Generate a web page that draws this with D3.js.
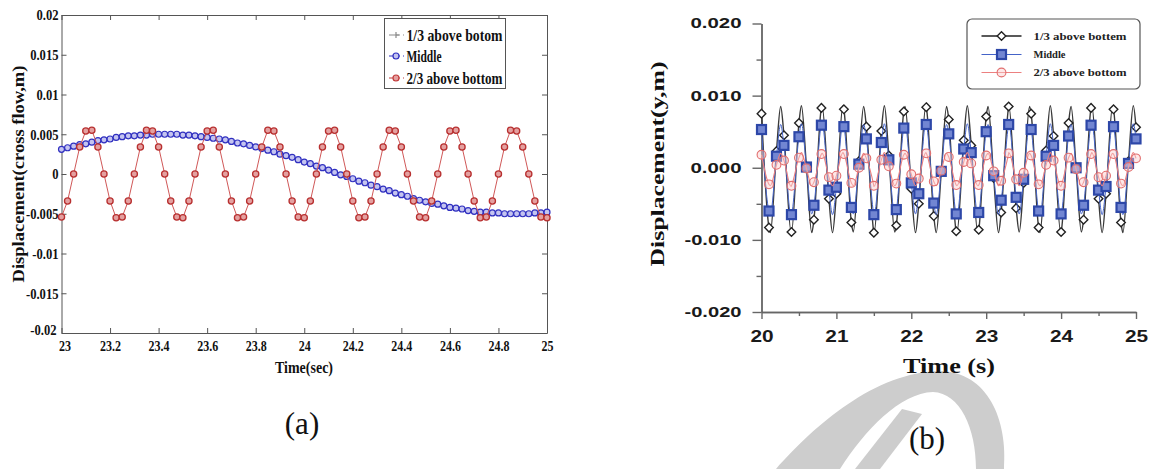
<!DOCTYPE html>
<html><head><meta charset="utf-8">
<script src="https://cdn.jsdelivr.net/npm/d3@7"></script>
<style>body{margin:0;background:#fff}svg{display:block}</style>
</head><body>
<svg id="c" width="1153" height="469"></svg>
<script>
// ---------- Panel (a) data ----------
const aTimes = [23.000,23.025,23.050,23.075,23.100,23.125,23.150,23.175,23.200,23.225,23.250,23.275,23.300,23.325,23.350,23.375,23.400,23.425,23.450,23.475,23.500,23.525,23.550,23.575,23.600,23.625,23.650,23.675,23.700,23.725,23.750,23.775,23.800,23.825,23.850,23.875,23.900,23.925,23.950,23.975,24.000,24.025,24.050,24.075,24.100,24.125,24.150,24.175,24.200,24.225,24.250,24.275,24.300,24.325,24.350,24.375,24.400,24.425,24.450,24.475,24.500,24.525,24.550,24.575,24.600,24.625,24.650,24.675,24.700,24.725,24.750,24.775,24.800,24.825,24.850,24.875,24.900,24.925,24.950,24.975,25.000];
const aMiddle = [0.0031,0.0033,0.0035,0.0037,0.0038,0.0040,0.0042,0.0043,0.0044,0.0046,
 0.0047,0.0048,0.0048,0.0049,0.0049,0.0050,0.0050,0.0050,0.0050,0.0050,
 0.0049,0.0049,0.0048,0.0047,0.0046,0.0045,0.0044,0.0043,0.0041,0.0039,
 0.0038,0.0036,0.0034,0.0032,0.0030,0.0028,0.0025,0.0023,0.0021,0.0018,
 0.0015,0.0013,0.0010,0.0008,0.0005,0.0002,-0.0001,-0.0003,-0.0006,-0.0009,
 -0.0011,-0.0014,-0.0016,-0.0019,-0.0021,-0.0024,-0.0026,-0.0028,-0.0031,-0.0033,
 -0.0035,-0.0037,-0.0038,-0.0040,-0.0042,-0.0043,-0.0044,-0.0046,-0.0047,-0.0048,
 -0.0048,-0.0049,-0.0049,-0.0050,-0.0050,-0.0050,-0.0050,-0.0050,-0.0049,-0.0049,
 -0.0048];
const aTwoThirds = [-0.0054,-0.0034,0.0000,0.0034,0.0054,0.0055,0.0034,0.0000,-0.0034,-0.0055,
 -0.0054,-0.0034,0.0000,0.0034,0.0055,0.0054,0.0034,0.0000,-0.0034,-0.0054,
 -0.0055,-0.0034,0.0000,0.0034,0.0054,0.0055,0.0034,0.0000,-0.0034,-0.0055,
 -0.0054,-0.0034,0.0000,0.0034,0.0055,0.0054,0.0034,0.0000,-0.0034,-0.0054,
 -0.0055,-0.0034,0.0000,0.0034,0.0054,0.0055,0.0034,0.0000,-0.0034,-0.0055,
 -0.0054,-0.0034,0.0000,0.0034,0.0055,0.0054,0.0034,0.0000,-0.0034,-0.0054,
 -0.0055,-0.0034,0.0000,0.0034,0.0054,0.0055,0.0034,0.0000,-0.0034,-0.0055,
 -0.0054,-0.0034,0.0000,0.0034,0.0055,0.0054,0.0034,0.0000,-0.0034,-0.0054,
 -0.0055];
const aXTicks = [23,23.2,23.4,23.6,23.8,24,24.2,24.4,24.6,24.8,25];
const aXLabels = ["23","23.2","23.4","23.6","23.8","24","24.2","24.4","24.6","24.8","25"];
const aYTicks = [0.02,0.015,0.01,0.005,0,-0.005,-0.01,-0.015,-0.02];
const aYLabels = ["0.02","0.015","0.01","0.005","0","-0.005","-0.01","-0.015","-0.02"];
const aLegend = ["1/3 above botom","Middle","2/3 above bottom"];

// ---------- Panel (b) data ----------
const bMarkTimes = [20.0,20.1,20.2,20.3,20.4,20.5,20.6,20.7,20.8,20.9,21.0,21.1,21.2,21.3,21.4,21.5,21.6,21.7,21.8,21.9,22.0,22.1,22.2,22.3,22.4,22.5,22.6,22.7,22.8,22.9,23.0,23.1,23.2,23.3,23.4,23.5,23.6,23.7,23.8,23.9,24.0,24.1,24.2,24.3,24.4,24.5,24.6,24.7,24.8,24.9,25.0];
const bLowMarks = [0.0075,-0.0083,0.0023,0.0045,-0.0089,0.0062,0.0002,-0.0072,0.0083,-0.0043,
 -0.0036,0.0081,-0.0076,0.0009,0.0057,-0.0090,0.0051,0.0017,-0.0080,0.0078,
 -0.0029,-0.0050,0.0084,-0.0067,-0.0006,0.0067,-0.0088,0.0038,0.0031,-0.0086,
 0.0071,-0.0014,-0.0062,0.0085,-0.0056,-0.0021,0.0075,-0.0083,0.0024,0.0044,
 -0.0089,0.0062,0.0001,-0.0072,0.0083,-0.0043,-0.0036,0.0081,-0.0076,0.0009,0.0056];
const bMidMarks = [0.0053,-0.0060,0.0016,0.0031,-0.0065,0.0043,0.0001,-0.0052,0.0059,-0.0031,
 -0.0027,0.0057,-0.0055,0.0005,0.0040,-0.0065,0.0035,0.0011,-0.0058,0.0055,
 -0.0021,-0.0036,0.0060,-0.0049,-0.0005,0.0047,-0.0064,0.0026,0.0021,-0.0062,
 0.0050,-0.0011,-0.0045,0.0060,-0.0041,-0.0016,0.0053,-0.0060,0.0016,0.0031,
 -0.0064,0.0044,0.0000,-0.0052,0.0059,-0.0031,-0.0026,0.0057,-0.0055,0.0006,0.0040];
const bHighMarks = [0.0018,-0.0023,0.0004,0.0010,-0.0025,0.0014,-0.0001,-0.0020,0.0019,-0.0013,
 -0.0011,0.0019,-0.0021,0.0000,0.0013,-0.0025,0.0011,0.0002,-0.0022,0.0018,
 -0.0009,-0.0015,0.0020,-0.0019,-0.0004,0.0015,-0.0024,0.0008,0.0006,-0.0024,
 0.0017,-0.0005,-0.0018,0.0020,-0.0016,-0.0007,0.0017,-0.0023,0.0004,0.0010,
 -0.0025,0.0014,-0.0002,-0.0020,0.0019,-0.0013,-0.0011,0.0019,-0.0022,0.0001,0.0013];
const bExtTimes = [20.118,20.256,20.395,20.533,20.671,20.810,20.948,21.087,21.225,21.364,21.502,21.641,21.779,21.917,22.056,22.194,22.333,22.471,22.610,22.748,22.887,23.025,23.164,23.302,23.441,23.579,23.718,23.856,23.995,24.133,24.271,24.410,24.548,24.687,24.825,24.964];
const bLowExt = [-0.0090,0.0085,-0.0089,0.0086,-0.0090,0.0085,-0.0090,0.0086,-0.0089,0.0085,-0.0091,0.0086,-0.0089,0.0085,-0.0090,0.0086,-0.0090,0.0085,-0.0089,0.0086,-0.0090,0.0085,-0.0090,0.0086,-0.0089,0.0085,-0.0090,0.0086,-0.0090,0.0085,-0.0089,0.0086,-0.0090,0.0085,-0.0090,0.0086];
const bMidExt = [-0.0064,0.0060,-0.0066,0.0061,-0.0064,0.0060,-0.0065,0.0061,-0.0064,0.0060,-0.0066,0.0061,-0.0065,0.0060,-0.0064,0.0061,-0.0065,0.0060,-0.0065,0.0061,-0.0064,0.0060,-0.0065,0.0061,-0.0064,0.0060,-0.0065,0.0061,-0.0065,0.0060,-0.0064,0.0061,-0.0065,0.0060,-0.0065,0.0061];
const bHighExt = [-0.0025,0.0020,-0.0026,0.0021,-0.0025,0.0020,-0.0025,0.0021,-0.0025,0.0020,-0.0026,0.0021,-0.0025,0.0020,-0.0025,0.0021,-0.0025,0.0020,-0.0025,0.0021,-0.0025,0.0020,-0.0025,0.0021,-0.0025,0.0020,-0.0025,0.0021,-0.0026,0.0020,-0.0025,0.0021,-0.0025,0.0020,-0.0025,0.0021];
const bXTicks = [20,21,22,23,24,25];
const bXLabels = ["20","21","22","23","24","25"];
const bXMinor = [20.5,21.5,22.5,23.5,24.5];
const bYTicks = [0.02,0.01,0,-0.01,-0.02];
const bYLabels = ["0.020","0.010","0.000","-0.010","-0.020"];
const bYMinor = [0.015,0.005,-0.005,-0.015];
const bLegend = ["1/3 above bottem","Middle","2/3 above bottom"];

// ---------- helpers ----------
const svg = d3.select("#c");
function fitTo(sel, w){ sel.attr("textLength", w).attr("lengthAdjust","spacingAndGlyphs"); }
function squash(sel, f){ sel.each(function(){ const w=this.getComputedTextLength(); d3.select(this).attr("textLength", w*f).attr("lengthAdjust","spacingAndGlyphs"); }); }
const SERIF = "'Liberation Serif','Times New Roman',serif";
const SANS = "'Liberation Sans',Arial,sans-serif";

// ---------- watermark ----------
const wm = svg.append("g").attr("fill","#cdcdcd");
wm.append("path").attr("d","M776,469 C815,425 875,372 940,371 C988,372 1008,420 1004,469 L976,469 C976,428 960,393 933,392 C900,393 865,430 840,469 Z");
wm.append("path").attr("d","M855,469 L902,409 L922,414 L880,469 Z");

// ================= Panel (a) =================
const xA = d3.scaleLinear().domain([23,25]).range([61.5,547]);
const yA = d3.scaleLinear().domain([-0.02,0.02]).range([333,15]);
const gA = svg.append("g");

function styleAxisA(g){
  g.selectAll(".domain").attr("stroke","#555").attr("stroke-width",1);
  g.selectAll(".tick line").attr("stroke","#555");
  g.selectAll("text").attr("fill","#111").attr("font-family",SERIF).attr("font-weight","bold").attr("font-size",15);
}
const axBA = gA.append("g").attr("transform","translate(0,333)")
  .call(d3.axisBottom(xA).tickValues(aXTicks).tickFormat((d,i)=>aXLabels[i]).tickSizeInner(-5).tickSizeOuter(0).tickPadding(7));
styleAxisA(axBA); squash(axBA.selectAll("text"),0.8);
axBA.selectAll("text").filter((d,i)=>i===0).attr("dx","3");
const axTA = gA.append("g").attr("transform","translate(0,15)")
  .call(d3.axisTop(xA).tickValues(aXTicks).tickFormat("").tickSizeInner(-5).tickSizeOuter(0));
styleAxisA(axTA);
const axLA = gA.append("g").attr("transform","translate(61.5,0)")
  .call(d3.axisLeft(yA).tickValues(aYTicks).tickFormat((d,i)=>aYLabels[i]).tickSizeInner(-5).tickSizeOuter(0).tickPadding(3));
styleAxisA(axLA); squash(axLA.selectAll("text"),0.84);
axLA.selectAll("text").filter((d,i)=>i===aYTicks.length-1).attr("dy","0.1em").attr("dx","-2");
const axRA = gA.append("g").attr("transform","translate(547,0)")
  .call(d3.axisRight(yA).tickValues(aYTicks).tickFormat("").tickSizeInner(-5).tickSizeOuter(0));
styleAxisA(axRA);

// series
const lineA = d3.line().x((d,i)=>xA(aTimes[i])).y(d=>yA(d));
gA.append("path").datum(aMiddle).attr("d",lineA).attr("fill","none").attr("stroke","#5050d8").attr("stroke-width",1).attr("stroke-dasharray","3,2");
gA.append("g").selectAll("circle").data(aMiddle).join("circle")
  .attr("cx",(d,i)=>xA(aTimes[i])).attr("cy",d=>yA(d)).attr("r",3)
  .attr("fill","#c4c4f0").attr("stroke","#3030c0").attr("stroke-width",1.2);
gA.append("path").datum(aTwoThirds).attr("d",lineA).attr("fill","none").attr("stroke","#d05858").attr("stroke-width",1);
gA.append("g").selectAll("circle").data(aTwoThirds).join("circle")
  .attr("cx",(d,i)=>xA(aTimes[i])).attr("cy",d=>yA(d)).attr("r",3.1)
  .attr("fill","#e4a0a0").attr("stroke","#b83030").attr("stroke-width",1.3);

// legend (a)
const lgA = gA.append("g");
lgA.append("rect").attr("x",384.5).attr("y",18.5).attr("width",121).attr("height",70).attr("fill","#fff").attr("stroke","#555");
const lgAy = [35,56,78], lgAcol = ["#8a8a8a","#3030c0","#c23a3a"], lgAw=[96,35,96];
aLegend.forEach((name,i)=>{
  const y = lgAy[i];
  lgA.append("line").attr("x1",389).attr("x2",404).attr("y1",y).attr("y2",y).attr("stroke",lgAcol[i]).attr("stroke-width",1.2).attr("stroke-dasharray","4,3");
  if(i===0){
    lgA.append("path").attr("d",`M${393},${y}h6M${396},${y-3}v6`).attr("stroke",lgAcol[i]).attr("stroke-width",1.2);
  } else {
    lgA.append("circle").attr("cx",396).attr("cy",y).attr("r",3).attr("fill", i===1?"#c4c4f0":"#e4a0a0").attr("stroke",lgAcol[i]).attr("stroke-width",1.2);
  }
  const t = lgA.append("text").attr("x",406.5).attr("y",y+5.5).text(name)
    .attr("font-family",SERIF).attr("font-weight","bold").attr("font-size",16).attr("fill","#111");
  fitTo(t, lgAw[i]);
});

// titles (a)
const tA1 = gA.append("text").attr("x",304).attr("y",373).attr("text-anchor","middle").text("Time(sec)")
  .attr("font-family",SERIF).attr("font-weight","bold").attr("font-size",17).attr("fill","#111");
fitTo(tA1,58);
const tA2 = gA.append("text").attr("transform","translate(24,174) rotate(-90)").attr("text-anchor","middle").text("Displacement(cross flow,m)")
  .attr("font-family",SERIF).attr("font-weight","bold").attr("font-size",16).attr("fill","#111");
fitTo(tA2,217);
gA.append("text").attr("x",302).attr("y",434).attr("text-anchor","middle").text("(a)")
  .attr("font-family",SERIF).attr("font-size",31).attr("fill","#111");

// ================= Panel (b) =================
const xB = d3.scaleLinear().domain([20,25]).range([761.5,1136]);
const yB = d3.scaleLinear().domain([-0.02,0.02]).range([312,23.5]);
const gB = svg.append("g");
function styleAxisB(g){
  g.selectAll(".domain").attr("stroke","#666").attr("stroke-width",1.4);
  g.selectAll(".tick line").attr("stroke","#666").attr("stroke-width",1.4);
  g.selectAll("text").attr("fill","#1a1a1a").attr("font-family",SANS).attr("font-weight","bold");
}
const axBB = gB.append("g").attr("transform","translate(0,312)")
  .call(d3.axisBottom(xB).tickValues(bXTicks).tickFormat((d,i)=>bXLabels[i]).tickSize(7).tickPadding(12).tickSizeOuter(0));
styleAxisB(axBB); axBB.selectAll("text").attr("font-size",16); squash(axBB.selectAll("text"),1.3);
const axBBm = gB.append("g").attr("transform","translate(0,312)")
  .call(d3.axisBottom(xB).tickValues(bXMinor).tickFormat("").tickSize(4).tickSizeOuter(0));
styleAxisB(axBBm);
const axLB = gB.append("g").attr("transform","translate(761.5,0)")
  .call(d3.axisLeft(yB).tickValues(bYTicks).tickFormat((d,i)=>bYLabels[i]).tickSize(9).tickPadding(11).tickSizeOuter(0));
styleAxisB(axLB); axLB.selectAll("text").attr("font-size",14);
axLB.selectAll("text").each(function(d,i){ fitTo(d3.select(this), bYLabels[i].startsWith("-")?57:51); });
const axLBm = gB.append("g").attr("transform","translate(761.5,0)")
  .call(d3.axisLeft(yB).tickValues(bYMinor).tickFormat("").tickSize(5).tickSizeOuter(0));
styleAxisB(axLBm);

function pts(ext, mk){
  const p = bExtTimes.map((t,i)=>[t,ext[i]]).concat(bMarkTimes.map((t,i)=>[t,mk[i]]));
  p.sort((a,b)=>a[0]-b[0]); return p;
}
const lineB = d3.line().x(d=>xB(d[0])).y(d=>yB(d[1])).curve(d3.curveMonotoneX);
const diamond = "M0,-4.3L4.3,0L0,4.3L-4.3,0Z";

// low (black)
gB.append("path").datum(pts(bLowExt,bLowMarks)).attr("d",lineB).attr("fill","none").attr("stroke","#3a3a3a").attr("stroke-width",1.4);
gB.append("g").selectAll("path").data(bLowMarks).join("path").attr("d",diamond)
  .attr("transform",(d,i)=>`translate(${xB(bMarkTimes[i])},${yB(d)})`)
  .attr("fill","#fff").attr("stroke","#222").attr("stroke-width",1.4);
// middle (blue)
gB.append("path").datum(pts(bMidExt,bMidMarks)).attr("d",lineB).attr("fill","none").attr("stroke","#4463c8").attr("stroke-width",1);
gB.append("g").selectAll("rect").data(bMidMarks).join("rect")
  .attr("x",(d,i)=>xB(bMarkTimes[i])-4.5).attr("y",d=>yB(d)-4.5).attr("width",9).attr("height",9)
  .attr("fill","#7286d2").attr("stroke","#2d47a8").attr("stroke-width",2.2);
// high (red)
gB.append("path").datum(pts(bHighExt,bHighMarks)).attr("d",lineB).attr("fill","none").attr("stroke","#ec8080").attr("stroke-width",1.1);
gB.append("g").selectAll("circle").data(bHighMarks).join("circle")
  .attr("cx",(d,i)=>xB(bMarkTimes[i])).attr("cy",d=>yB(d)).attr("r",4.4)
  .attr("fill","rgba(250,205,205,0.45)").attr("stroke","#e26e6e").attr("stroke-width",1.1);

// legend (b)
const lgB = gB.append("g");
lgB.append("rect").attr("x",967).attr("y",19).attr("width",173).attr("height",70).attr("rx",5)
  .attr("fill","#fff").attr("stroke","#555").attr("stroke-width",1.2);
const lgBy = [36,54.5,72.5], lgBw = [93,32,93];
bLegend.forEach((name,i)=>{
  const y = lgBy[i];
  const col = ["#222","#4463c8","#ec8080"][i];
  lgB.append("line").attr("x1",981.5).attr("x2",1021.5).attr("y1",y).attr("y2",y).attr("stroke",col).attr("stroke-width",i===0?1.4:1);
  if(i===0) lgB.append("path").attr("d",diamond).attr("transform",`translate(1001.5,${y})`).attr("fill","#fff").attr("stroke","#222").attr("stroke-width",1.4);
  if(i===1) lgB.append("rect").attr("x",997).attr("y",y-4.5).attr("width",9).attr("height",9).attr("fill","#7286d2").attr("stroke","#2d47a8").attr("stroke-width",2.2);
  if(i===2) lgB.append("circle").attr("cx",1001.5).attr("cy",y).attr("r",4.4).attr("fill","rgba(250,205,205,0.45)").attr("stroke","#e26e6e").attr("stroke-width",1.1);
  const t = lgB.append("text").attr("x",1033.5).attr("y",y+3.5).text(name)
    .attr("font-family",SERIF).attr("font-weight","bold").attr("font-size",10).attr("fill","#222");
  fitTo(t, lgBw[i]);
});

// titles (b)
const tB1 = gB.append("text").attr("x",949).attr("y",373).attr("text-anchor","middle").text("Time (s)")
  .attr("font-family",SERIF).attr("font-weight","bold").attr("font-size",22).attr("fill","#111");
fitTo(tB1,92);
const tB2 = gB.append("text").attr("transform","translate(664,164) rotate(-90)").attr("text-anchor","middle").text("Displacement(y,m)")
  .attr("font-family",SERIF).attr("font-weight","bold").attr("font-size",19).attr("fill","#111");
fitTo(tB2,205);
gB.append("text").attr("x",927).attr("y",449).attr("text-anchor","middle").text("(b)")
  .attr("font-family",SERIF).attr("font-size",31).attr("fill","#111");
</script>
</body></html>
